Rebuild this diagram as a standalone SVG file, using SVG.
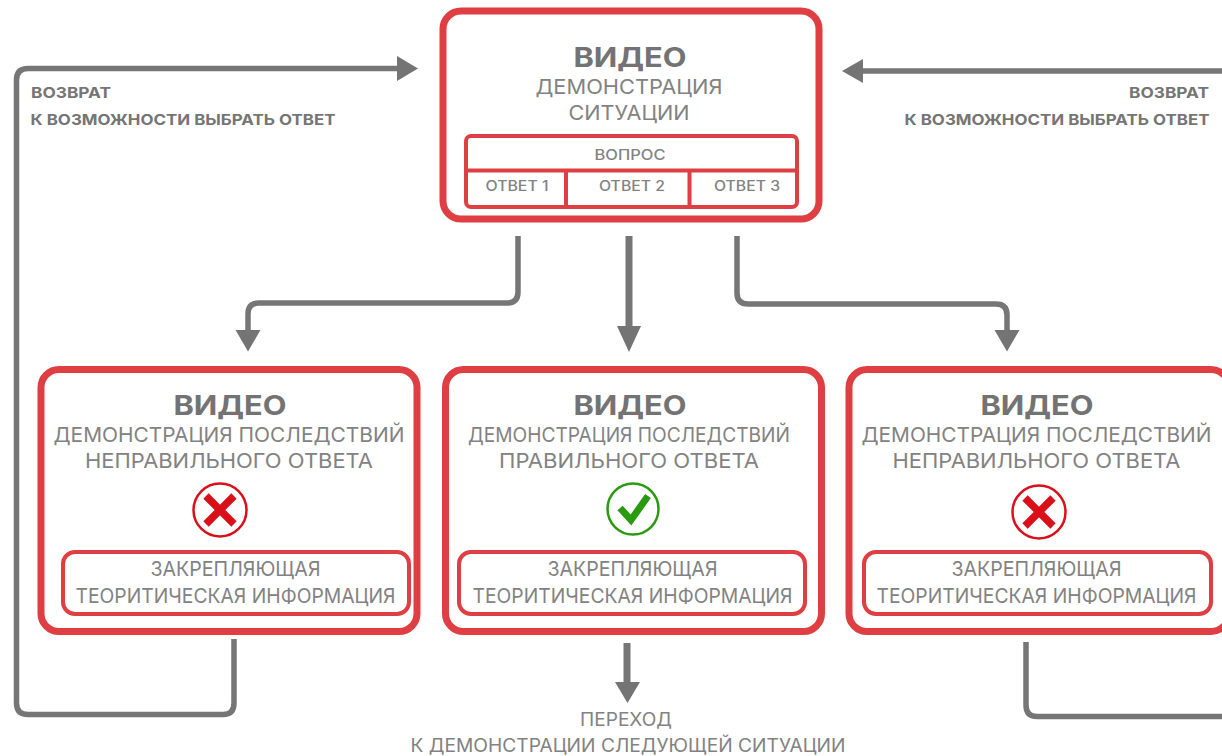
<svg xmlns="http://www.w3.org/2000/svg" width="1222" height="756" viewBox="0 0 1222 756">
<style>
text{font-family:"Inter","Open Sans","Noto Sans","Liberation Sans",sans-serif;fill:#828282;text-anchor:middle}
.h{font-size:27px;font-weight:700;fill:#737373}
.s{font-size:20px;font-weight:400}
.n{font-size:18px;font-weight:400}
.t{font-size:14px;font-weight:500}
.l{font-size:15px;font-weight:700;fill:#757575}
.box{fill:#fff;stroke:#df3f42;stroke-width:7}
.in{fill:#fff;stroke:#df3f42;stroke-width:4}
.c{fill:none;stroke:#767676;stroke-width:5.500}
.a{fill:#747474}
.th{stroke-width:7}
</style>
<rect width="1222" height="756" fill="#fff"/>
<g id="connectors">
<path class="c" d="M234 639V703Q234 714.500 223 714.500H28Q16.500 714.500 16.500 703V80Q16.500 68.500 28 68.500H399"/>
<path class="a" d="M397 56L418 68.500L397 81Z"/>
<path class="c" d="M1222 71H860"/>
<path class="a" d="M863 59L842 71L863 83Z"/>
<path class="c" d="M1026 642V705Q1026 716.500 1037 716.500H1222"/>
<path class="c" d="M518 236V292Q518 303 507 303H259Q248 303 248 314V332"/>
<path class="a" d="M235.500 330H260.500L248 351.500Z"/>
<path class="c th" d="M629 236V327"/>
<path class="a" d="M617 326H641L629 352Z"/>
<path class="c" d="M737 236V293Q737 304 748 304H996Q1007 304 1007 315V332"/>
<path class="a" d="M994.500 330H1019.500L1007 351.500Z"/>
<path class="c th" d="M627 643V684"/>
<path class="a" d="M615 682H640L627.500 703Z"/>
</g>
<g id="node-top">
<rect class="box" x="443" y="11" width="376" height="208" rx="18"/>
<text class="h" x="630" y="67" textLength="113" lengthAdjust="spacingAndGlyphs">ВИДЕО</text>
<text class="s" x="629" y="94" textLength="187" lengthAdjust="spacingAndGlyphs">ДЕМОНСТРАЦИЯ</text>
<text class="s" x="629" y="120" textLength="121" lengthAdjust="spacingAndGlyphs">СИТУАЦИИ</text>
<rect class="in" x="466" y="136" width="331" height="71" rx="5"/>
<path d="M466 170.500H797M566 170.500V207M689.500 170.500V207" fill="none" stroke="#df3f42" stroke-width="4"/>
<text class="t" x="630" y="160" textLength="71" lengthAdjust="spacingAndGlyphs">ВОПРОС</text>
<text class="t" x="517" y="191" textLength="63" lengthAdjust="spacingAndGlyphs">ОТВЕТ 1</text>
<text class="t" x="632" y="191" textLength="66" lengthAdjust="spacingAndGlyphs">ОТВЕТ 2</text>
<text class="t" x="747" y="191" textLength="66" lengthAdjust="spacingAndGlyphs">ОТВЕТ 3</text>
</g>
<g id="node-left">
<rect class="box" x="41" y="369.500" width="376" height="262" rx="18"/>
<text class="h" x="230" y="415" textLength="113" lengthAdjust="spacingAndGlyphs">ВИДЕО</text>
<text class="s" x="229" y="442" textLength="351" lengthAdjust="spacingAndGlyphs">ДЕМОНСТРАЦИЯ ПОСЛЕДСТВИЙ</text>
<text class="s" x="229" y="468" textLength="288" lengthAdjust="spacingAndGlyphs">НЕПРАВИЛЬНОГО ОТВЕТА</text>
<circle cx="220" cy="510" r="26.500" fill="#fff" stroke="#d9101a" stroke-width="2.500"/>
<path d="M206 496L234 524M234 496L206 524" stroke="#d9101a" stroke-width="7.500" fill="none"/>
<rect class="in" x="63" y="552" width="346" height="62" rx="12"/>
<text class="s" x="235.500" y="576" textLength="170" lengthAdjust="spacingAndGlyphs">ЗАКРЕПЛЯЮЩАЯ</text>
<text class="s" x="235.500" y="603" textLength="320" lengthAdjust="spacingAndGlyphs">ТЕОРИТИЧЕСКАЯ ИНФОРМАЦИЯ</text>
</g>
<g id="node-middle">
<rect class="box" x="445.500" y="369.500" width="376" height="262" rx="18"/>
<text class="h" x="630" y="415" textLength="113" lengthAdjust="spacingAndGlyphs">ВИДЕО</text>
<text class="s" x="629" y="442" textLength="322" lengthAdjust="spacingAndGlyphs">ДЕМОНСТРАЦИЯ ПОСЛЕДСТВИЙ</text>
<text class="s" x="629" y="468" textLength="260" lengthAdjust="spacingAndGlyphs">ПРАВИЛЬНОГО ОТВЕТА</text>
<circle cx="633" cy="509" r="25.500" fill="#fff" stroke="#2a9a10" stroke-width="2.500"/>
<path d="M620 508L631 520L648 496" stroke="#2a9a10" stroke-width="7" fill="none"/>
<rect class="in" x="459" y="552" width="346" height="62" rx="12"/>
<text class="s" x="632.500" y="576" textLength="170" lengthAdjust="spacingAndGlyphs">ЗАКРЕПЛЯЮЩАЯ</text>
<text class="s" x="632.500" y="603" textLength="320" lengthAdjust="spacingAndGlyphs">ТЕОРИТИЧЕСКАЯ ИНФОРМАЦИЯ</text>
</g>
<g id="node-right">
<rect class="box" x="849" y="369.500" width="380" height="262" rx="18"/>
<text class="h" x="1037" y="415" textLength="113" lengthAdjust="spacingAndGlyphs">ВИДЕО</text>
<text class="s" x="1036.500" y="442" textLength="350" lengthAdjust="spacingAndGlyphs">ДЕМОНСТРАЦИЯ ПОСЛЕДСТВИЙ</text>
<text class="s" x="1036.500" y="468" textLength="288" lengthAdjust="spacingAndGlyphs">НЕПРАВИЛЬНОГО ОТВЕТА</text>
<circle cx="1039" cy="512" r="26.500" fill="#fff" stroke="#d9101a" stroke-width="2.500"/>
<path d="M1025 498L1053 526M1053 498L1025 526" stroke="#d9101a" stroke-width="7.500" fill="none"/>
<rect class="in" x="864" y="552" width="347" height="62" rx="12"/>
<text class="s" x="1036.500" y="576" textLength="170" lengthAdjust="spacingAndGlyphs">ЗАКРЕПЛЯЮЩАЯ</text>
<text class="s" x="1036.500" y="603" textLength="320" lengthAdjust="spacingAndGlyphs">ТЕОРИТИЧЕСКАЯ ИНФОРМАЦИЯ</text>
</g>
<g id="label-left">
<text class="l" x="71" y="98" textLength="80" lengthAdjust="spacingAndGlyphs">ВОЗВРАТ</text>
<text class="l" x="183" y="125" textLength="305" lengthAdjust="spacingAndGlyphs">К ВОЗМОЖНОСТИ ВЫБРАТЬ ОТВЕТ</text>
</g>
<g id="label-right">
<text class="l" x="1169" y="98" textLength="80" lengthAdjust="spacingAndGlyphs">ВОЗВРАТ</text>
<text class="l" x="1057" y="125" textLength="305" lengthAdjust="spacingAndGlyphs">К ВОЗМОЖНОСТИ ВЫБРАТЬ ОТВЕТ</text>
</g>
<g id="label-next">
<text class="n" x="626" y="726" textLength="92" lengthAdjust="spacingAndGlyphs">ПЕРЕХОД</text>
<text class="n" x="628" y="752" textLength="435" lengthAdjust="spacingAndGlyphs">К ДЕМОНСТРАЦИИ СЛЕДУЮЩЕЙ СИТУАЦИИ</text>
</g>
</svg>
